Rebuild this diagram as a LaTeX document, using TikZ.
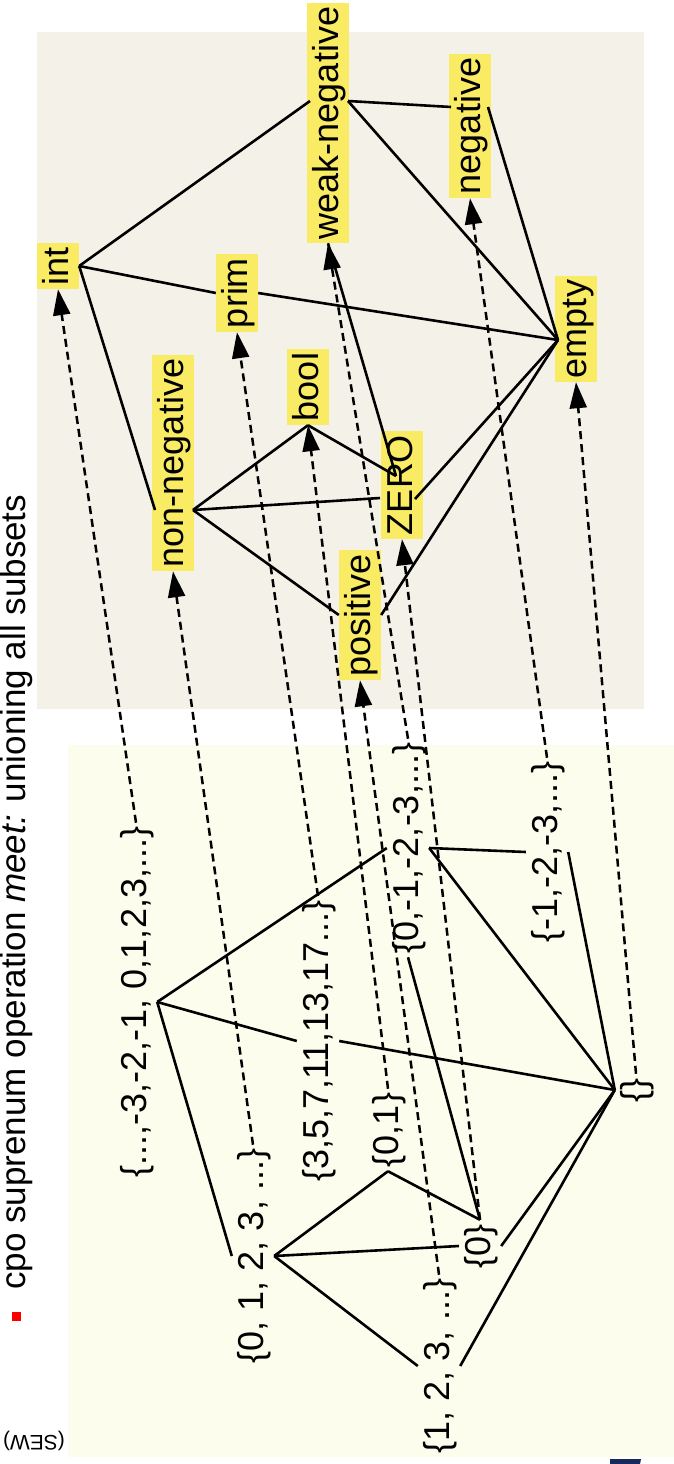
\documentclass[tikz,border=0pt]{standalone}
\usepackage{fontspec}
\setmainfont{Liberation Sans}
\usetikzlibrary{arrows.meta}
\definecolor{upperpanel}{RGB}{244,242,232}
\definecolor{lowerpanel}{RGB}{253,253,238}
\definecolor{hl}{RGB}{249,235,99}
\definecolor{navy}{RGB}{22,42,92}
\begin{document}
\begin{tikzpicture}[x=1pt,y=-1pt,
  lbl/.style={rotate=90, anchor=base, font=\fontsize{36}{40}\selectfont,
    inner xsep=4pt, inner ysep=1pt, text height=30pt, text depth=10pt},
  typ/.style={lbl, fill=hl},
  hasse/.style={line width=2.6pt},
  embed/.style={line width=2.5pt, dash pattern=on 8pt off 5pt,
    -{Triangle[length=26pt,width=17pt]}},
]
\useasboundingbox (0,0) rectangle (674,1464);

% panels
\fill[upperpanel] (37,32) rectangle (644,709);
\fill[lowerpanel] (68,745) rectangle (674,1457);

% heading line
\node[fill=red, minimum size=9pt, inner sep=0pt] (bullet) at (16,1316) {};
\node[rotate=90, anchor=base west, inner sep=0pt, font=\fontsize{35}{40}\selectfont]
  (head) at (25,1290) {cpo suprenum operation \textit{meet:} unioning all subsets};
\node[rotate=180, inner sep=0pt, font=\fontsize{21}{24}\selectfont] (sew) at (34,1441) {(SEW)};
\fill[navy] (610,1459) -- (641,1459) -- (640,1464) -- (610,1464) -- cycle;

% type lattice
\node[typ] (int)   at (68,266)  {int};
\node[typ] (prim)  at (247,293) {prim};
\node[typ] (wn)    at (338,123) {weak-negative};
\node[typ] (neg)   at (480,126) {negative};
\node[typ] (empty) at (586,329) {empty};
\node[typ] (nn)    at (183,463) {non-negative};
\node[typ] (bool)  at (318,387) {bool};
\node[typ] (zero)  at (412,485) {ZERO};
\node[typ] (pos)   at (370,615) {positive};

\coordinate (wn-n)    at (310,101);
\coordinate (wn-s)    at (348,101);
\coordinate (neg-n)   at (451,107);
\coordinate (neg-s)   at (488,107);
\coordinate (empty-n) at (558,340);
\coordinate (nn-n)    at (155,510);
\coordinate (nn-s)    at (193,510);
\coordinate (zero-n)  at (396,476);
\coordinate (zero-nw) at (380,498);
\coordinate (zero-s)  at (415,499);

% set lattice
\node[lbl] (zs)  at (146,1002) {\{...,-3,-2,-1, 0,1,2,3,...\}};
\node[lbl] (nat) at (263,1256) {\{0, 1, 2, 3, ...\}};
\node[lbl] (pr)  at (328,1041) {\{3,5,7,11,13,17...\}};
\node[lbl] (b01) at (398,1130) {\{0,1\}};
\node[lbl] (nm)  at (418,848)  {\{0,-1,-2,-3,...\}};
\node[lbl] (ps)  at (449,1366) {\{1, 2, 3, ...\}};
\node[lbl] (z0)  at (490,1246) {\{0\}};
\node[lbl] (ns)  at (557,852)  {\{-1,-2,-3,...\}};
\node[lbl] (e0)  at (646,1090) {\{\}};

% order of the types
\draw[hasse] (int.south) -- (wn-n);
\draw[hasse] (int.south) -- (prim.north);
\draw[hasse] (prim.south) -- (empty-n);
\draw[hasse] (int.south) -- (nn-n);
\draw[hasse] (wn-s) -- (neg-n);
\draw[hasse] (wn-s) -- (empty-n);
\draw[hasse] (neg-s) -- (empty-n);
\draw[hasse] (wn.west) -- (zero-n);
\draw[hasse] (nn-s) -- (bool.west);
\draw[hasse] (nn-s) -- (zero-nw);
\draw[hasse] (nn-s) -- (pos.north);
\draw[hasse] (bool.west) -- (zero-n);
\draw[hasse] (zero-s) -- (empty-n);
\draw[hasse] (pos.south) -- (empty-n);

% order of the sets
\draw[hasse] (zs.south) -- (nm.north);
\draw[hasse] (zs.south) -- (pr.north);
\draw[hasse] (pr.south) -- (e0.north);
\draw[hasse] (zs.south) -- (nat.north);
\draw[hasse] (nat.south) -- (b01.west);
\draw[hasse] (nat.south) -- (z0.north);
\draw[hasse] (nat.south) -- (ps.north);
\draw[hasse] (b01.west) -- (z0.east);
\draw[hasse] (nm.west) -- (z0.east);
\draw[hasse] (nm.south) -- (ns.north);
\draw[hasse] (nm.south) -- (e0.north);
\draw[hasse] (ns.south) -- (e0.north);
\draw[hasse] (z0.south) -- (e0.north);
\draw[hasse] (ps.south) -- (e0.north);

% each set names a type
\draw[embed] (zs.east)  -- (int.west);
\draw[embed] (nat.east) -- (nn.west);
\draw[embed] (pr.east)  -- (prim.west);
\draw[embed] (b01.east) -- (bool.west);
\draw[embed] (nm.east)  -- (wn.west);
\draw[embed] (ps.east)  -- (pos.west);
\draw[embed] (z0.east)  -- (zero.west);
\draw[embed] (ns.east)  -- (neg.west);
\draw[embed] (e0.east)  -- (empty.west);
\end{tikzpicture}
\end{document}
